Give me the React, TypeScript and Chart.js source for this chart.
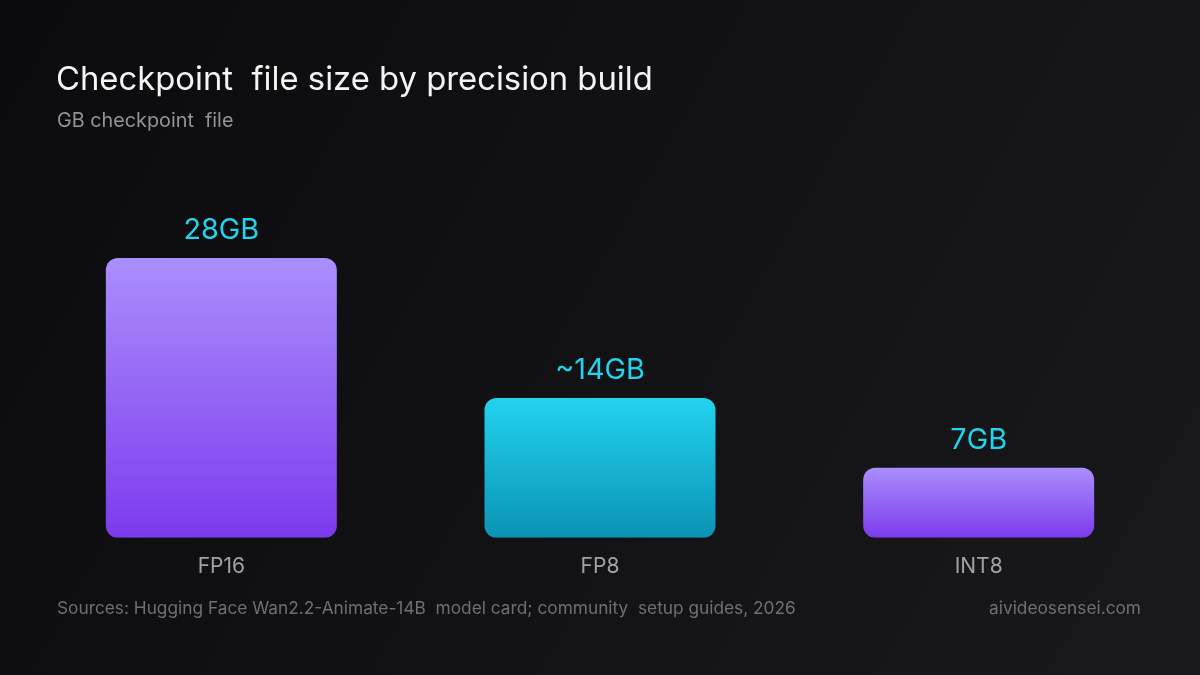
import React, { useEffect, useRef } from "react";
import { Chart, registerables } from "chart.js";

Chart.register(...registerables);

const categories = ["FP16", "FP8", "INT8"];
const sizesGB = [28, 14, 7];
const valueLabels = ["28GB", "~14GB", "7GB"];
const titleText = "Checkpoint  file size by precision build";
const subtitleText = "GB checkpoint  file";
const sourceText = "Sources: Hugging Face Wan2.2-Animate-14B  model card; community  setup guides, 2026";
const brandText = "aivideosensei.com";

const FONT = 'Inter, "Noto Sans", "DejaVu Sans", sans-serif';

const gradientStops: [string, string][] = [
  ["#ab8efc", "#7c3aed"],
  ["#22d3ee", "#0a93b4"],
  ["#ab8efc", "#7c3aed"],
];

const decorPlugin = {
  id: "decor",
  beforeDraw(chart: any) {
    const { ctx, width, height } = chart;
    ctx.save();
    const g = ctx.createLinearGradient(0, 0, width, height);
    g.addColorStop(0, "#0b0b0e");
    g.addColorStop(1, "#19191c");
    ctx.fillStyle = g;
    ctx.fillRect(0, 0, width, height);
    ctx.restore();
  },
  afterDraw(chart: any) {
    const { ctx } = chart;
    ctx.save();
    ctx.textBaseline = "alphabetic";
    ctx.textAlign = "left";
    ctx.fillStyle = "#f4f4f5";
    ctx.font = `400 32.8px ${FONT}`;
    ctx.fillText(titleText, 56, 90);
    ctx.fillStyle = "#92929a";
    ctx.font = `400 19.8px ${FONT}`;
    ctx.fillText(subtitleText, 57, 127);
    ctx.fillStyle = "#6e6e76";
    ctx.font = `400 17.3px ${FONT}`;
    ctx.fillText(sourceText, 57, 614);
    ctx.textAlign = "right";
    ctx.fillText(brandText, 1141, 614);

    const meta = chart.getDatasetMeta(0);
    ctx.textAlign = "center";
    ctx.fillStyle = "#22d3ee";
    ctx.font = `400 28.8px ${FONT}`;
    meta.data.forEach((bar: any, i: number) => {
      ctx.fillText(valueLabels[i], bar.x, bar.y - 19);
    });
    ctx.restore();
  },
};

export default function App() {
  const ref = useRef<HTMLCanvasElement | null>(null);
  useEffect(() => {
    document.body.style.margin = "0";
    const canvas = ref.current!;
    const chart = new Chart(canvas, {
      type: "bar",
      data: {
        labels: categories,
        datasets: [
          {
            data: sizesGB,
            backgroundColor: (c: any) => {
              const ch = c.chart;
              const area = ch.chartArea;
              const i = c.dataIndex ?? 0;
              const stops = gradientStops[i] || gradientStops[0];
              if (!area || c.type !== "data") return stops[1];
              const y = ch.scales.y;
              const top = y.getPixelForValue(sizesGB[i]);
              const base = y.getPixelForValue(0);
              const g = ch.ctx.createLinearGradient(0, top, 0, base);
              g.addColorStop(0, stops[0]);
              g.addColorStop(1, stops[1]);
              return g;
            },
            borderRadius: 12,
            borderSkipped: false,
            borderWidth: 0,
            barPercentage: 0.61,
            categoryPercentage: 1,
          },
        ],
      },
      options: {
        animation: false,
        responsive: false,
        maintainAspectRatio: false,
        devicePixelRatio: 1,
        layout: { padding: { left: 32, right: 32, top: 218, bottom: 80 } },
        plugins: {
          legend: { display: false },
          tooltip: { enabled: false },
          title: { display: false },
        },
        scales: {
          x: {
            grid: { display: false, drawTicks: false },
            border: { display: false },
            ticks: {
              color: "#a1a1aa",
              font: { family: FONT, size: 21 },
              padding: 16,
            },
          },
          y: {
            display: false,
            min: 0,
            max: 32,
          },
        },
      },
      plugins: [decorPlugin],
    });
    return () => chart.destroy();
  }, []);
  return (
    <div style={{ position: "fixed", left: 0, top: 0, width: 1200, height: 675 }}>
      <canvas ref={ref} width={1200} height={675} style={{ width: 1200, height: 675, display: "block" }} />
    </div>
  );
}
